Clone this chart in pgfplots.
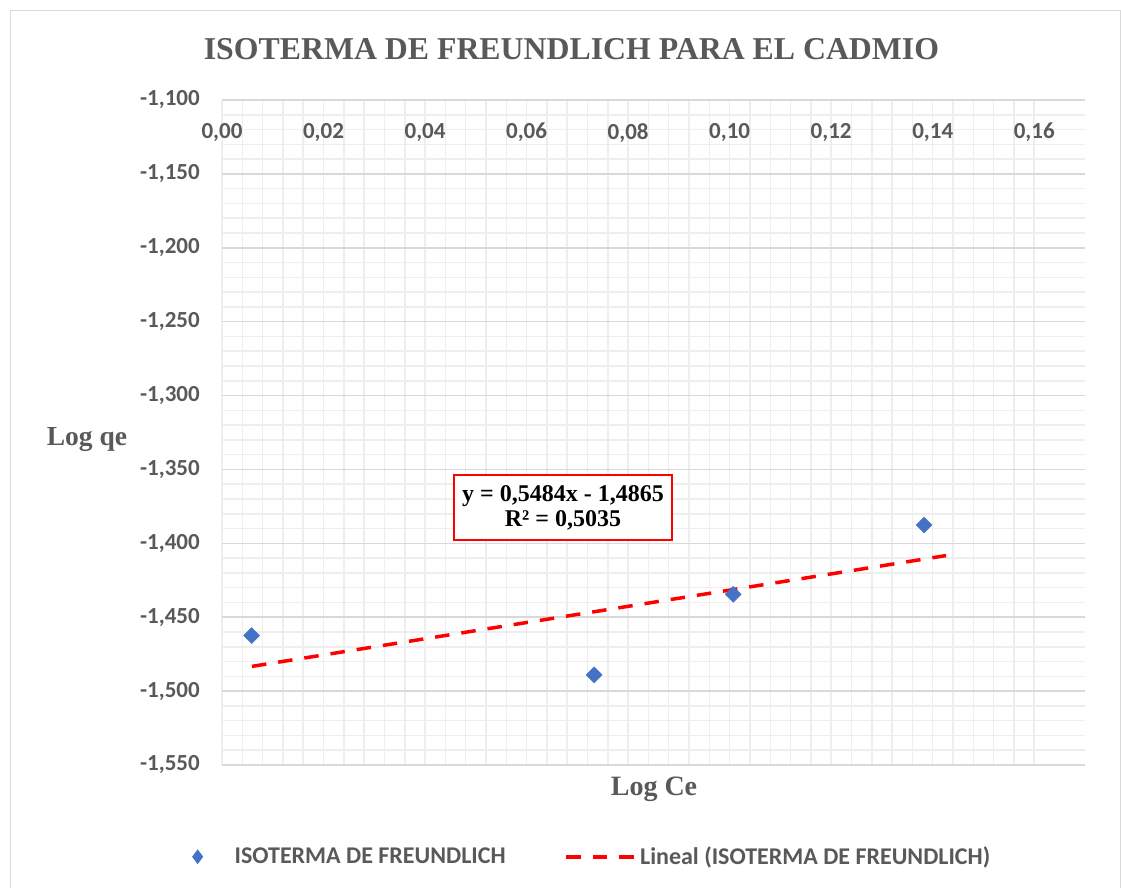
\documentclass[border=0pt]{standalone}
\usepackage{fontspec}
\setmainfont{Liberation Serif}
\newfontfamily\calibri{Carlito}
\usepackage{pgfplots}
\pgfplotsset{compat=1.18}
\definecolor{txt}{HTML}{595959}
\definecolor{majgrid}{HTML}{D9D9D9}
\definecolor{mingrid}{HTML}{EEEEEE}
\definecolor{ptblue}{HTML}{4472C4}
\pgfplotsset{
  scatlegend/.style={legend image code/.code={\path[draw=none, mark repeat=2, mark phase=2, ##1, draw=none] plot coordinates {(-8pt,0pt) (0pt,0pt) (8pt,0pt)}; \path[draw=none] (-8pt,0pt) -- (35pt,0pt);}},
  linelegend/.style={legend image code/.code={\draw[##1] (0pt,0pt) -- (70pt,0pt);}},
}
\begin{document}
\begin{tikzpicture}[x=1pt,y=1pt]
\path[use as bounding box] (0,0) rectangle (1121,888);
\draw[majgrid, line width=1pt] (10.5,-2) -- (10.5,877.5) -- (1120.5,877.5) -- (1120.5,-2);
\begin{axis}[
  at={(222pt,123pt)}, anchor=south west,
  width=863pt, height=665pt, scale only axis,
  xmin=0, xmax=0.17, ymin=-1.55, ymax=-1.1,
  xtick={0,0.02,0.04,0.06,0.08,0.10,0.12,0.14,0.16},
  xticklabels={{0,00},{0,02},{0,04},{0,06},{0,08},{0,10},{0,12},{0,14},{0,16}},
  ytick={-1.55,-1.5,-1.45,-1.4,-1.35,-1.3,-1.25,-1.2,-1.15,-1.1},
  yticklabels={{-1,550},{-1,500},{-1,450},{-1,400},{-1,350},{-1,300},{-1,250},{-1,200},{-1,150},{-1,100}},
  minor x tick num=4, minor y tick num=4,
  xmajorgrids, ymajorgrids, xminorgrids, yminorgrids,
  every major x grid/.style={draw=mingrid, line width=1.5pt},
  every minor x grid/.style={draw=mingrid, line width=1.5pt},
  every major y grid/.style={draw=majgrid, line width=1.5pt},
  every minor y grid/.style={draw=mingrid, line width=1.5pt},
  axis line style={draw=none},
  major tick length=0pt, minor tick length=0pt,
  xticklabel pos=upper,
  tick label style={font=\calibri\bfseries\fontsize{23}{27}\selectfont, text=txt},
  x tick label style={anchor=north, yshift=-23pt, inner sep=0pt},
  y tick label style={anchor=east, xshift=-22pt, inner sep=0pt},
  legend columns=2,
  legend cell align=left,
  legend style={at={(0.4275,-0.138)}, anchor=center, draw=none, fill=none,
    font=\calibri\bfseries\fontsize{24}{28}\selectfont, text=txt,
    /tikz/every even column/.append style={column sep=57pt}},
]
\addlegendimage{scatlegend, only marks, mark=diamond*, mark size=7pt, mark options={fill=ptblue, draw=ptblue}}
\addlegendentry{ISOTERMA DE FREUNDLICH}
\addlegendimage{linelegend, red, line width=3.5pt, dash pattern=on 14.5pt off 12pt}
\addlegendentry{Lineal (ISOTERMA DE FREUNDLICH)}
\addplot[forget plot, red, line width=3.5pt, dash pattern=on 14.5pt off 12pt] coordinates {(0.0059,-1.48326) (0.14263,-1.40828)};
\addplot[forget plot, only marks, mark=square*, mark size=5.66pt, mark options={rotate=45, fill=ptblue, draw=ptblue}] coordinates {
(0.00585,-1.4624) (0.0733,-1.4890) (0.1007,-1.4345) (0.1383,-1.3876)};
\end{axis}
\node[font=\bfseries\fontsize{31.8}{36}\selectfont, text=txt] at (571.5,838.5) {ISOTERMA DE FREUNDLICH PARA EL CADMIO};
\node[font=\bfseries\fontsize{27.5}{32}\selectfont, text=txt, anchor=base] at (87,442) {Log qe};
\node[font=\bfseries\fontsize{28}{32}\selectfont, text=txt, anchor=base] at (654,92) {Log Ce};
\node[draw=red, line width=1.5pt, fill=white, minimum width=218pt, minimum height=65pt, align=center,
  font=\bfseries\fontsize{24}{25}\selectfont, text=black] at (563,380.5) {y = 0,5484x - 1,4865\\R² = 0,5035};
\end{tikzpicture}
\end{document}
